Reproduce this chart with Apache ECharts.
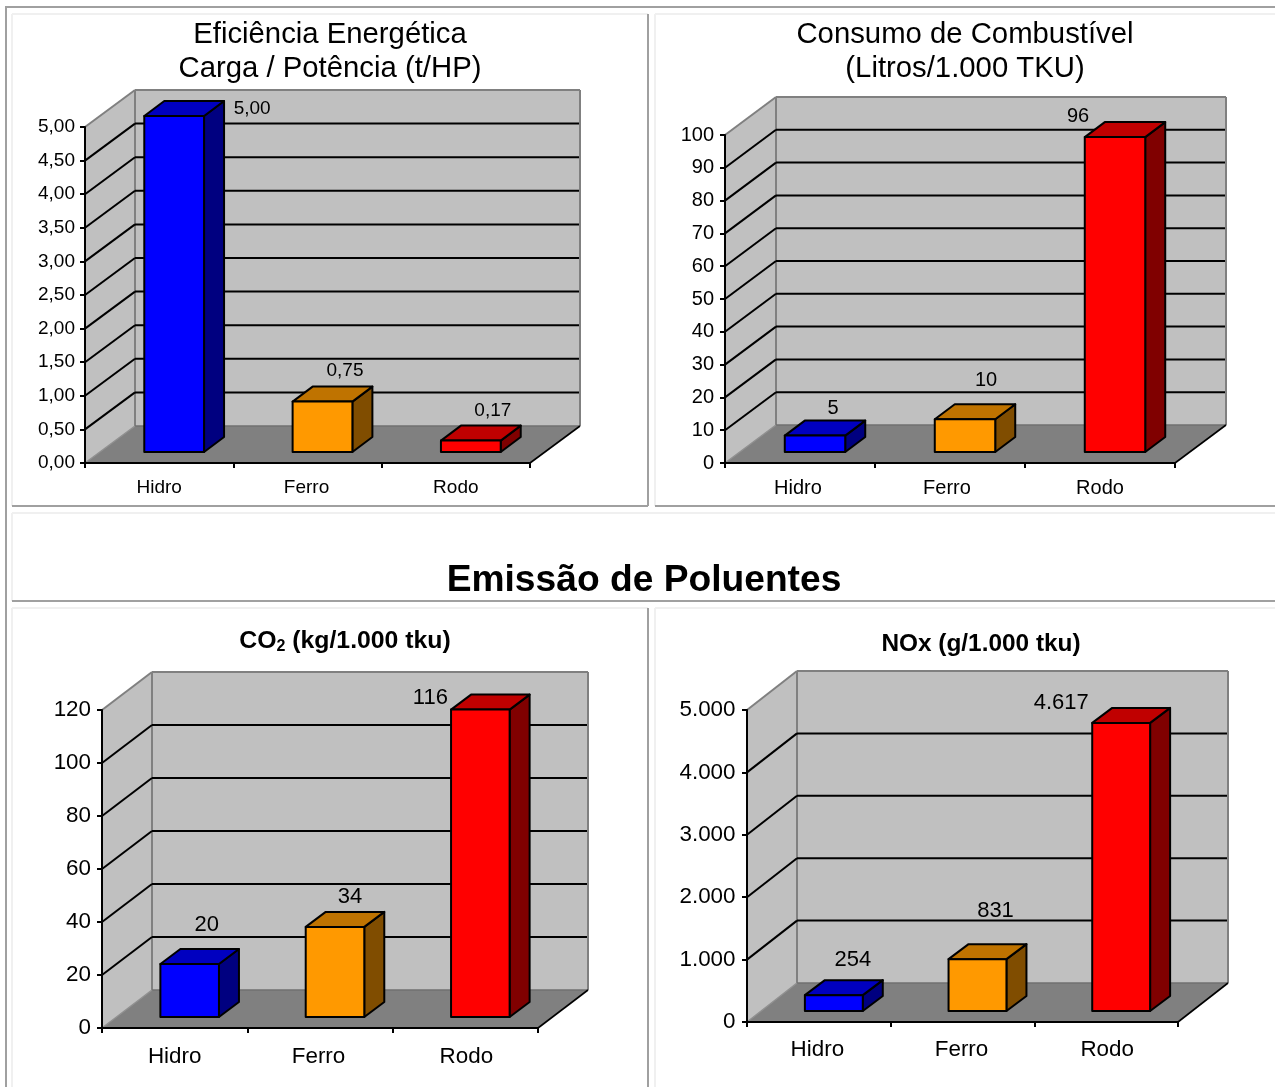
<!DOCTYPE html>
<html>
<head>
<meta charset="utf-8">
<style>html,body{margin:0;padding:0;background:#fff}#c{width:1275px;height:1087px}</style>
<script src="https://cdn.jsdelivr.net/npm/echarts@6/dist/echarts.min.js"></script>
</head>
<body>
<div id="c"></div>
<script>
var categories = ['Hidro', 'Ferro', 'Rodo'];

var efficiencyValues = [5.00, 0.75, 0.17];
var efficiencyValueLabels = ['5,00', '0,75', '0,17'];
var efficiencyTicks = [0, 0.5, 1, 1.5, 2, 2.5, 3, 3.5, 4, 4.5, 5];
var efficiencyTickLabels = ['0,00', '0,50', '1,00', '1,50', '2,00', '2,50', '3,00', '3,50', '4,00', '4,50', '5,00'];

var fuelValues = [5, 10, 96];
var fuelValueLabels = ['5', '10', '96'];
var fuelTicks = [0, 10, 20, 30, 40, 50, 60, 70, 80, 90, 100];
var fuelTickLabels = ['0', '10', '20', '30', '40', '50', '60', '70', '80', '90', '100'];

var co2Values = [20, 34, 116];
var co2ValueLabels = ['20', '34', '116'];
var co2Ticks = [0, 20, 40, 60, 80, 100, 120];
var co2TickLabels = ['0', '20', '40', '60', '80', '100', '120'];

var noxValues = [254, 831, 4617];
var noxValueLabels = ['254', '831', '4.617'];
var noxTicks = [0, 1000, 2000, 3000, 4000, 5000];
var noxTickLabels = ['0', '1.000', '2.000', '3.000', '4.000', '5.000'];

var FONT = '"Liberation Sans", Arial, sans-serif';
var barFaces = [
  { front: '#0000ff', top: '#0000c0', side: '#000080' },
  { front: '#ff9900', top: '#bf7300', side: '#804d00' },
  { front: '#ff0000', top: '#c00000', side: '#800000' }
];

var panels = [
  { values: efficiencyValues, valueLabels: efficiencyValueLabels, ticks: efficiencyTicks, tickLabels: efficiencyTickLabels,
    left: 85, top: 127, width: 445, height: 336, font: 19, dataFont: 19, catMargin: 15, yMargin: 10, labelPad: [2, 0], wall: [50, -37],
    catShift: [[0, 0], [0, 2], [0, 0]], nudges: [[93, -18], [37.5, -41.6], [37, -40.6]] },
  { values: fuelValues, valueLabels: fuelValueLabels, ticks: fuelTicks, tickLabels: fuelTickLabels,
    left: 725, top: 135, width: 450, height: 328, font: 20, dataFont: 20, catMargin: 15, yMargin: 11, labelPad: [0, 3], wall: [51, -38],
    catShift: [[0, 4], [0, 6], [0, 0]], nudges: [[33, -38.6], [36, -50], [-22, -32]] },
  { values: co2Values, valueLabels: co2ValueLabels, ticks: co2Ticks, tickLabels: co2TickLabels,
    left: 102, top: 710, width: 436, height: 318, font: 22.4, dataFont: 22, catMargin: 18, yMargin: 11, labelPad: [0, 0], wall: [50, -38],
    catShift: [[0, 0], [0, 3], [2, 0]], nudges: [[32, -50], [30, -41], [-35, -23]] },
  { values: noxValues, valueLabels: noxValueLabels, ticks: noxTicks, tickLabels: noxTickLabels,
    left: 747, top: 710, width: 431, height: 312, font: 22.4, dataFont: 22, catMargin: 17, yMargin: 11.5, labelPad: [0, 4], wall: [50, -39],
    catShift: [[0, 3], [0, 2], [2, 0]], nudges: [[34, -46], [33, -59], [-45, -31]] }
];

var BAR_SHARE = 0.403, BAR_SHIFT = [15, -11], BAR_DEPTH = [20, -15];

function poly(pts, fill, stroke, lw, z2) {
  return { type: 'polygon', z2: z2 || 0, shape: { points: pts },
    style: { fill: fill, stroke: stroke || null, lineWidth: lw || 0, lineJoin: 'round' } };
}
function seg(a, b, color, lw, z2) {
  return { type: 'line', z2: z2 || 0, shape: { x1: a[0], y1: a[1], x2: b[0], y2: b[1] },
    style: { stroke: color, lineWidth: lw, fill: null } };
}

var grids = [], xAxes = [], yAxes = [], series = [];

panels.forEach(function (p, i) {
  var d = p.wall;
  grids.push({ left: p.left, top: p.top, width: p.width, height: p.height, containLabel: false });
  xAxes.push({ type: 'category', gridIndex: i, boundaryGap: true,
    data: categories.map(function (name, k) {
      return { value: name, textStyle: { padding: [0, p.catShift[k][1], 0, p.catShift[k][0]] } };
    }),
    axisLine: { show: true, onZero: false, lineStyle: { color: '#000', width: 2 } },
    axisTick: { show: true, alignWithLabel: false, length: 5, inside: false, lineStyle: { color: '#000', width: 2 } },
    axisLabel: { show: true, interval: 0, color: '#000', fontFamily: FONT, fontSize: p.font, margin: p.catMargin },
    splitLine: { show: false }, z: 5 });
  yAxes.push({ type: 'value', gridIndex: i, min: 0, max: p.ticks[p.ticks.length - 1], interval: p.ticks[1] - p.ticks[0],
    axisLine: { show: true, onZero: false, lineStyle: { color: '#000', width: 2 } },
    axisTick: { show: true, length: 5, lineStyle: { color: '#000', width: 2 } },
    axisLabel: { show: true, color: '#000', fontFamily: FONT, fontSize: p.font, margin: p.yMargin,
      padding: [p.labelPad[0], 0, p.labelPad[1], 0], hideOverlap: false, showMinLabel: true, showMaxLabel: true,
      formatter: function (v) { var j = p.ticks.indexOf(v); return j >= 0 ? p.tickLabels[j] : ''; } },
    splitLine: { show: false }, z: 5 });

  // walls and floor
  series.push({ type: 'custom', xAxisIndex: i, yAxisIndex: i, silent: true, z: 1, clip: false,
    data: [[0, 0]],
    renderItem: function (params, api) {
      var c = params.coordSys, x0 = c.x, x1 = c.x + c.width;
      var yb = api.coord([0, 0])[1], yt = api.coord([0, p.ticks[p.ticks.length - 1]])[1];
      return { type: 'group', children: [
        poly([[x0, yb], [x0 + d[0], yb + d[1]], [x0 + d[0], yt + d[1]], [x0, yt]], '#c0c0c0'),
        poly([[x0 + d[0], yb + d[1]], [x1 + d[0], yb + d[1]], [x1 + d[0], yt + d[1]], [x0 + d[0], yt + d[1]]], '#c0c0c0'),
        poly([[x0, yb], [x1, yb], [x1 + d[0], yb + d[1]], [x0 + d[0], yb + d[1]]], '#808080'),
        seg([x0, yt], [x0 + d[0], yt + d[1]], '#808080', 2, 2),
        seg([x0 + d[0], yt + d[1]], [x1 + d[0], yt + d[1]], '#808080', 2, 2),
        seg([x1 + d[0], yt + d[1]], [x1 + d[0], yb + d[1]], '#808080', 2, 2),
        seg([x0 + d[0], yt + d[1]], [x0 + d[0], yb + d[1]], '#808080', 2, 2),
        seg([x0 + d[0], yb + d[1]], [x1 + d[0], yb + d[1]], '#707070', 1.5, 2),
        seg([x0, yb], [x0 + d[0], yb + d[1]], '#909090', 1.5, 2),
        seg([x1, yb], [x1 + d[0], yb + d[1]], '#000', 1.6, 2)
      ] };
    }
  });

  // grid lines drawn on the walls
  series.push({ type: 'custom', xAxisIndex: i, yAxisIndex: i, silent: true, z: 2, clip: false,
    data: p.ticks.slice(1, -1).map(function (t) { return [0, t]; }),
    renderItem: function (params, api) {
      var c = params.coordSys, y = api.coord([0, api.value(1)])[1];
      var bx = c.x + d[0], by = y + d[1];
      return { type: 'group', children: [
        seg([c.x, y], [bx, by], '#000', 2),
        seg([bx, by], [c.x + c.width + d[0] - 1, by], '#000', 2)
      ] };
    }
  });

  // 3D bars and their value labels
  series.push({ type: 'custom', xAxisIndex: i, yAxisIndex: i, silent: true, z: 3, clip: false,
    data: p.values.map(function (v, k) { return [k, v]; }),
    renderItem: function (params, api) {
      var k = api.value(0), v = api.value(1), f = barFaces[k];
      var top = api.coord([k, v]), base = api.coord([k, 0]);
      var w = api.size([1, 0])[0] * BAR_SHARE;
      var l = top[0] - w / 2 + BAR_SHIFT[0], r = l + w;
      var yt = top[1] + BAR_SHIFT[1], yb = base[1] + BAR_SHIFT[1];
      var dx = BAR_DEPTH[0], dy = BAR_DEPTH[1], n = p.nudges[k];
      return { type: 'group', children: [
        poly([[r, yt], [r + dx, yt + dy], [r + dx, yb + dy], [r, yb]], f.side, '#000', 2, 1),
        poly([[l, yt], [l + dx, yt + dy], [r + dx, yt + dy], [r, yt]], f.top, '#000', 2, 1),
        poly([[l, yt], [r, yt], [r, yb], [l, yb]], f.front, '#000', 2, 2),
        { type: 'text', z2: 5, style: { x: top[0] + n[0], y: top[1] + n[1], text: p.valueLabels[k],
          fill: '#000', font: p.dataFont + 'px ' + FONT, textAlign: 'center', textVerticalAlign: 'middle' } }
      ] };
    }
  });
});

var GRAY = '#a0a0a0', LIGHT = '#f0f0f0';
function rule(x1, y1, x2, y2, color) {
  return { type: 'line', silent: true, z: 0, shape: { x1: x1, y1: y1, x2: x2, y2: y2 },
    style: { stroke: color, lineWidth: 2 } };
}
var frames = [
  rule(5, 7, 1275, 7, GRAY), rule(6, 7, 6, 1087, GRAY),
  rule(12, 14, 648, 14, LIGHT), rule(655, 14, 1275, 14, LIGHT),
  rule(12, 14, 12, 506, LIGHT), rule(655, 14, 655, 506, LIGHT),
  rule(648, 14, 648, 506, GRAY), rule(12, 506, 648, 506, GRAY), rule(655, 506, 1275, 506, GRAY),
  rule(12, 513, 1275, 513, LIGHT), rule(12, 513, 12, 601, LIGHT), rule(12, 601, 1275, 601, GRAY),
  rule(12, 608, 648, 608, LIGHT), rule(655, 608, 1275, 608, LIGHT),
  rule(12, 608, 12, 1087, LIGHT), rule(655, 608, 655, 1087, LIGHT),
  rule(648, 608, 648, 1087, GRAY)
];

var titles = [
  { text: 'Eficiência Energética\nCarga / Potência (t/HP)', left: 330, top: 18, textAlign: 'center', padding: 0,
    textStyle: { fontFamily: FONT, fontSize: 29.3, fontWeight: 'normal', color: '#000', lineHeight: 34 } },
  { text: 'Consumo de Combustível\n(Litros/1.000 TKU)', left: 965, top: 18, textAlign: 'center', padding: 0,
    textStyle: { fontFamily: FONT, fontSize: 29.3, fontWeight: 'normal', color: '#000', lineHeight: 34 } },
  { text: 'Emissão de Poluentes', left: 644, top: 559, textAlign: 'center', padding: 0,
    textStyle: { fontFamily: FONT, fontSize: 37.2, fontWeight: 'bold', color: '#000', lineHeight: 44 } },
  { text: '{b|CO}{s|2}{b| (kg/1.000 tku)}', left: 345, top: 627, textAlign: 'center', padding: 0,
    textStyle: { fontFamily: FONT, fontSize: 24.8, fontWeight: 'bold', color: '#000',
      rich: { b: { fontFamily: FONT, fontSize: 24.8, fontWeight: 'bold', color: '#000', lineHeight: 28 },
              s: { fontFamily: FONT, fontSize: 16, fontWeight: 'bold', color: '#000', lineHeight: 28, verticalAlign: 'bottom', padding: [8, 0, 0, 0] } } } },
  { text: 'NOx (g/1.000 tku)', left: 981, top: 630, textAlign: 'center', padding: 0,
    textStyle: { fontFamily: FONT, fontSize: 24.4, fontWeight: 'bold', color: '#000', lineHeight: 28 } }
];

var chart = echarts.init(document.getElementById('c'), null, { width: 1275, height: 1087 });
chart.setOption({
  backgroundColor: '#ffffff',
  animation: false,
  title: titles,
  grid: grids,
  xAxis: xAxes,
  yAxis: yAxes,
  series: series,
  graphic: { elements: frames }
});
</script>
</body>
</html>
